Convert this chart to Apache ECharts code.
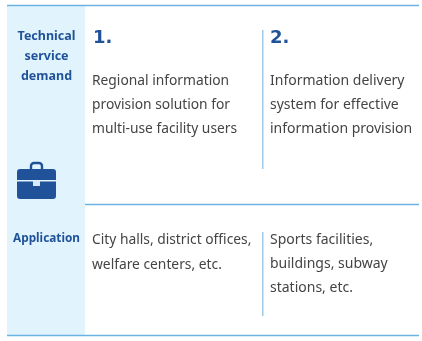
<!DOCTYPE html>
<html><head><meta charset="utf-8">
<style>html,body{margin:0;padding:0;background:#fff}#c{width:422px;height:341px}</style>
<script src="https://cdn.jsdelivr.net/npm/echarts@6/dist/echarts.min.js"></script>
</head><body><div id="c"></div>
<script>
const rowHeaders = [["Technical","service","demand"],["Application"]];
const columnNumbers = ["1.","2."];
const row1Texts = [
 ["Regional information","provision solution for","multi-use facility users"],
 ["Information delivery","system for effective","information provision"]];
const row2Texts = [
 ["City halls, district offices,","welfare centers, etc."],
 ["Sports facilities,","buildings, subway","stations, etc."]];

const FONT = '"Noto Sans","Open Sans",sans-serif';
const BLUE = '#1f5299', LINE = '#6db3e2', TXT = '#444444';
const g = [];
g.push({type:'rect',shape:{x:7,y:6,width:78,height:329},style:{fill:'#e1f3fd'}});
const hl=(x1,x2,y)=>g.push({type:'rect',shape:{x:x1,y:y,width:x2-x1,height:1.4},style:{fill:LINE}});
const vl=(x,y1,y2)=>g.push({type:'rect',shape:{x:x,y:y1,width:1.2,height:y2-y1},style:{fill:'#86bde3'}});
hl(7,419,4.8);hl(85,419,203.8);hl(7,419,334.8);
vl(262.2,30,169);vl(262.2,232,316);
const txt=(s,x,y,o)=>g.push({type:'text',x,y,style:Object.assign({text:s,font:'400 14px '+FONT,fill:TXT,textVerticalAlign:'middle'},o||{})});
const hdr={font:'700 12.5px '+FONT,fill:BLUE,textAlign:'center'};
rowHeaders[0].forEach((s,i)=>txt(s,46.5,36.5+i*20,hdr));
rowHeaders[1].forEach((s,i)=>txt(s,46.5,238.5,Object.assign({},hdr,{font:'700 11.8px '+FONT})));
const num={font:'900 18px "DejaVu Sans",'+FONT,fill:BLUE};
txt(columnNumbers[0],93,38.5,num);txt(columnNumbers[1],270,38.5,num);
row1Texts[0].forEach((s,i)=>txt(s,92,81+i*24.2,{font:'400 13.8px '+FONT}));
row1Texts[1].forEach((s,i)=>txt(s,270,81+i*24.2));
row2Texts[0].forEach((s,i)=>txt(s,92,240+i*25,{font:'400 13.8px '+FONT}));
row2Texts[1].forEach((s,i)=>txt(s,270,240+i*24));
// briefcase icon
g.push({type:'rect',shape:{x:31,y:163,width:11,height:9,r:3},style:{fill:'none',stroke:BLUE,lineWidth:2.4}});
g.push({type:'rect',shape:{x:17,y:169,width:39,height:30,r:3},style:{fill:BLUE}});
g.push({type:'rect',shape:{x:17,y:180,width:39,height:1.6},style:{fill:'#e1f3fd'}});
g.push({type:'rect',shape:{x:33,y:181,width:7,height:5},style:{fill:'#d5e9f7'}});
const chart=echarts.init(document.getElementById('c'),null,{renderer:'canvas'});
chart.setOption({animation:false,graphic:{elements:g}});
</script></body></html>
